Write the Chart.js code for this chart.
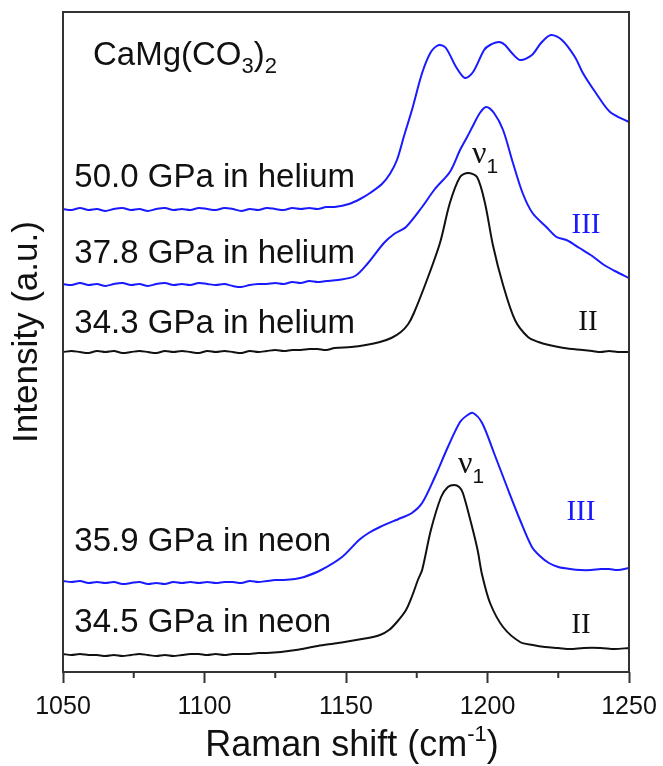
<!DOCTYPE html>
<html>
<head>
<meta charset="utf-8">
<script src="https://cdn.jsdelivr.net/npm/chart.js@4.4.0/dist/chart.umd.min.js"></script>
<style>
html, body { margin:0; padding:0; background:#fff; }
</style>
</head>
<body>
<canvas id="grafico" width="663" height="766"></canvas>
<script>
// Raman shift (cm-1) e intensidad (a.u., con desplazamiento vertical)
var shiftHe50 = [1050,1053,1056,1059,1062,1065,1068,1071,1074,1077,1080,1083,1086,1089,1092,1095,1098,1101,1104,1107,1110,1113,1116,1119,1122,1125,1128,1131,1134,1137,1140,1143,1146,1151,1155,1158.5,1162.7,1165.5,1168,1170.5,1173.3,1176.9,1180,1182.9,1185.3,1188.9,1192,1194.9,1198.8,1200.9,1204.1,1206.2,1208.3,1211.5,1215.7,1218.9,1222.4,1226.3,1230.9,1233.7,1238.3,1243.3,1250]
var intHe50 = [463,462,464,462,463,461,463,464,462,463,461,463,464,462,463,462,464,463,462,464,463,461,463,462,464,463,462,464,463,464,463,465,465,468,473,479,488,498,512,536,562,599,620,627,624,605,594,600,622,627,630,627,620,612,617,629,637,632,615,599,579,560,550]

var shiftHe378 = [1050,1053,1056,1059,1062,1065,1068,1071,1074,1077,1080,1083,1086,1089,1092,1095,1098,1101,1104,1107,1110,1113,1116,1119,1122,1125,1128,1131,1134,1137,1140,1143,1147.2,1153.2,1157.8,1163.4,1167,1171.2,1176.9,1181.4,1186.7,1190.3,1192.8,1195,1197.3,1199.5,1202.3,1205.5,1209,1212.4,1215.9,1220.8,1224.4,1227.9,1232.5,1237,1241.2,1245,1250]
var intHe378 = [388,387,389,387,388,386,388,389,387,388,386,388,389,387,388,387,389,388,387,388,386,385,387,388,388,389,388,390,389,391,390,391,392,396,409,429,438,445,465,483,500,522,535,547,559,565,559,542,509,479,459,445,435,432,424,416,407,401,394]

var shiftHe343 = [1050,1053,1056,1059,1062,1065,1068,1071,1074,1077,1080,1083,1086,1089,1092,1095,1098,1101,1104,1107,1110,1113,1116,1119,1122,1125,1128,1131,1134,1137,1140,1143,1146,1151.8,1157,1162,1166,1169.4,1172,1174,1178.6,1183.2,1186.7,1190.3,1193.1,1196.3,1199.1,1201.9,1205.5,1209.7,1214.3,1218,1221.7,1227,1233.7,1237,1240,1243,1246,1250]
var intHe343 = [320,321,320,319,321,320,321,319,320,321,320,319,321,320,321,320,319,321,320,321,320,319,321,320,321,322,321,322,322,323,323,322,324,325,327,330,334,340,348,359,392,429,469,495,499,495,469,427,387,352,335,330,327,324,322,321,320,321,320,320]

var shiftNe359 = [1050,1053,1056,1059,1062,1065,1068,1071,1074,1077,1080,1083,1086,1089,1092,1095,1098,1101,1104,1107,1110,1113,1116,1119,1122,1125,1128,1132,1135.2,1141.2,1148.6,1154.6,1158,1162,1169.4,1173.3,1176.9,1181.4,1186,1190.3,1193,1194.9,1198.1,1202.3,1206.9,1211.5,1215.7,1218.5,1221.7,1225,1229.2,1233,1236.6,1240,1243,1246,1250]
var intNe359 = [91,90,91,89,90,89,90,88,89,90,88,89,88,90,89,90,89,90,89,90,90,89,91,90,91,92,92,93,95,102,115,132,139,145,154,159,169,195,225,250,257,259,249,219,185,152,125,116,109,105,103,102,102,103,103,102,104]

var shiftNe345 = [1050,1053,1056,1059,1062,1065,1068,1071,1074,1077,1080,1083,1086,1089,1092,1095,1098,1101,1104,1107,1110,1113,1116,1119,1122,1127,1132.3,1140,1147.2,1157.8,1162,1165.2,1168,1171.2,1173.5,1175.4,1176.9,1180,1183.6,1186,1188.2,1190,1191.3,1194.2,1196.5,1198.1,1200.9,1205.5,1211.5,1216,1220.3,1225,1229.2,1234,1240,1245,1250]
var intNe345 = [18,17,18,17,17,16,17,16,17,18,17,16,17,16,17,18,18,17,18,17,18,18,18,19,19,20,22,26,29,34,37,42,50,62,77,92,102,142,175,185,187,185,179,149,122,97,69,45,30,27,25,24,23,24,24,23,24]

var xTicks = [1050,1100,1150,1200,1250]
var minorTicks = [1075,1125,1175,1225]

// etiquetas: texto, x (cm-1), y (a.u., linea base)
var etiquetas = ['50.0 GPa in helium','37.8 GPa in helium','34.3 GPa in helium','35.9 GPa in neon','34.5 GPa in neon']
var etiquetasX = [1054,1054,1054,1054,1054]
var etiquetasY = [485,409,339,121,40]
var fases = ['III','II','III','II']
var fasesX = [1234.8,1235.5,1233,1233]
var fasesY = [439,342,152,39]
var fasesColor = ['#1a1aff','#111','#1a1aff','#111']
var nuX = [1194.5,1189.6]
var nuY = [509,199]

var azul = '#1a1aff'
var negro = '#111111'

function serie(xs, ys, color)
{
    return {
        data: xs.map((v, i) => ({x: v, y: ys[i]})),
        borderColor: color,
        borderWidth: 2,
        pointRadius: 0,
        tension: 0.3,
        fill: false
    }
}

function piezas(ctx, lista, x0, y0)
{
    var x = x0
    lista.forEach(p =>
    {
        ctx.font = p.f
        ctx.fillText(p.t, x, y0 + (p.dy || 0))
        x += ctx.measureText(p.t).width
    })
    return x - x0
}

function anchoPiezas(ctx, lista)
{
    var w = 0
    lista.forEach(p => { ctx.font = p.f; w += ctx.measureText(p.t).width })
    return w
}

var sans = "'Liberation Sans', Arial, sans-serif"
var serif = "'Liberation Serif', 'Times New Roman', serif"

var adornos = {
    id: 'adornos',
    afterDraw(chart)
    {
        var ctx = chart.ctx, a = chart.chartArea, sx = chart.scales.x, sy = chart.scales.y
        ctx.save()
        ctx.strokeStyle = '#333'
        ctx.lineWidth = 2
        ctx.strokeRect(a.left, a.top, a.right - a.left, a.bottom - a.top)
        ctx.beginPath()
        minorTicks.forEach(v =>
        {
            var px = sx.getPixelForValue(v)
            ctx.moveTo(px, a.bottom)
            ctx.lineTo(px, a.bottom + 6)
        })
        ctx.stroke()

        ctx.textBaseline = 'alphabetic'
        ctx.textAlign = 'left'
        ctx.fillStyle = negro
        ctx.font = '33px ' + sans
        etiquetas.forEach((t, i) => ctx.fillText(t, sx.getPixelForValue(etiquetasX[i]), sy.getPixelForValue(etiquetasY[i])))

        piezas(ctx, [
            {t: 'CaMg(CO', f: '33px ' + sans},
            {t: '3', f: '22px ' + sans, dy: 8},
            {t: ')', f: '33px ' + sans},
            {t: '2', f: '22px ' + sans, dy: 8}
        ], sx.getPixelForValue(1060.6), sy.getPixelForValue(607))

        nuX.forEach((v, i) =>
        {
            piezas(ctx, [
                {t: 'ν', f: '32px ' + serif},
                {t: '1', f: '21px ' + sans, dy: 10}
            ], sx.getPixelForValue(v), sy.getPixelForValue(nuY[i]))
        })

        ctx.textAlign = 'center'
        ctx.font = '29px ' + serif
        fases.forEach((t, i) =>
        {
            ctx.fillStyle = fasesColor[i]
            ctx.fillText(t, sx.getPixelForValue(fasesX[i]), sy.getPixelForValue(fasesY[i]))
        })

        // titulos de ejes
        ctx.fillStyle = negro
        ctx.textAlign = 'left'
        ctx.textBaseline = 'middle'
        var titulo = [
            {t: 'Raman shift (cm', f: '36px ' + sans},
            {t: '-1', f: '22px ' + sans, dy: -11},
            {t: ')', f: '36px ' + sans}
        ]
        var w = anchoPiezas(ctx, titulo)
        piezas(ctx, titulo, (a.left + a.right) / 2 - w / 2 + 6, 746)

        ctx.translate(27, 332)
        ctx.rotate(-Math.PI / 2)
        ctx.textAlign = 'center'
        ctx.font = '35px ' + sans
        ctx.fillText('Intensity (a.u.)', 0, 0)
        ctx.restore()
    }
}

var mychart = new Chart(document.getElementById('grafico'),
    {
        type: 'line',
        data:
            {
                datasets: [
                    serie(shiftHe50, intHe50, azul),
                    serie(shiftHe378, intHe378, azul),
                    serie(shiftHe343, intHe343, negro),
                    serie(shiftNe359, intNe359, azul),
                    serie(shiftNe345, intNe345, negro)
                ]
            },
        plugins: [adornos],
        options:
            {
                responsive: false,
                animation: false,
                layout: { padding: { top: 12, right: 34, left: 0, bottom: 0 } },
                plugins: { legend: { display: false }, tooltip: { enabled: false } },
                scales:
                    {
                        x:
                            {
                                type: 'linear',
                                min: 1050,
                                max: 1250,
                                afterFit: s => { s.height = 94; s.paddingLeft = 0; s.paddingRight = 0 },
                                afterBuildTicks: s => { s.ticks = xTicks.map(v => ({value: v})) },
                                ticks: { color: '#111', font: { size: 25, family: sans }, padding: 9, maxRotation: 0, callback: v => String(v) },
                                grid: { drawOnChartArea: false, drawTicks: true, tickLength: 11, tickWidth: 2, tickColor: '#333' },
                                border: { display: false }
                            },
                        y:
                            {
                                min: 0,
                                max: 660,
                                afterFit: s => { s.width = 63; s.paddingTop = 0; s.paddingBottom = 0 },
                                ticks: { display: false },
                                grid: { display: false },
                                border: { display: false }
                            }
                    }
            }
    })
</script>
</body>
</html>
